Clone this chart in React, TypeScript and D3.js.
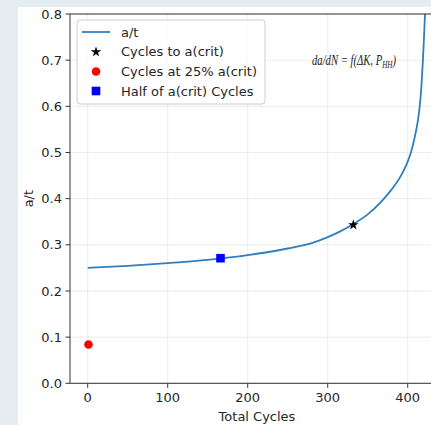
import React from "react";
import * as d3 from "d3";

const cycles = [0, 50, 100, 150, 200, 250, 280, 300, 315, 330, 350, 368.7, 380, 390, 398, 404, 409, 412.5, 415, 417.2, 419, 420.5, 421.6, 422.8];
const aOverT = [0.25, 0.2545, 0.2605, 0.2675, 0.2775, 0.292, 0.3035, 0.3165, 0.3285, 0.343, 0.366, 0.397, 0.42, 0.445, 0.472, 0.5, 0.535, 0.567, 0.6, 0.645, 0.7, 0.755, 0.8, 0.86];

const critPoint = { x: 332, y: 0.343 };
const quarterPoint = { x: 1, y: 0.084 };
const halfPoint = { x: 166, y: 0.271 };

const xTicks = [0, 100, 200, 300, 400];
const yTicks = [0, 0.1, 0.2, 0.3, 0.4, 0.5, 0.6, 0.7, 0.8];

const legendLabels = ["a/t", "Cycles to a(crit)", "Cycles at 25% a(crit)", "Half of a(crit) Cycles"];

const W = 431;
const H = 425;
const L = 70;
const R = 457;
const T = 14;
const B = 383.3;
const font = "DejaVu Sans, sans-serif";
const textColor = "#262626";
const lineColor = "#2f7fbf";
const eqFont = "Liberation Serif, serif";

export default function App() {
  const x = d3.scaleLinear().domain([-22.1, 461.6]).range([L, R]);
  const y = d3.scaleLinear().domain([0, 0.8]).range([B, T]);
  const line = d3
    .line<number>()
    .x((_, i) => x(cycles[i]))
    .y((d) => y(d))
    .curve(d3.curveMonotoneX);
  const star = d3.symbol(d3.symbolStar, 34)() as string;

  return (
    <svg width={W} height={H} style={{ position: "absolute", left: 0, top: 0, overflow: "hidden" }}>
      <rect x={0} y={0} width={W} height={H} fill="#e6edf1" />
      <rect x={18} y={7} width={W} height={H} fill="#ffffff" />
      <defs>
        <clipPath id="plot">
          <rect x={L} y={T} width={R - L} height={B - T} />
        </clipPath>
      </defs>
      {xTicks.map((t) => (
        <line key={"gx" + t} x1={x(t)} x2={x(t)} y1={T} y2={B} stroke="#b0b0b0" strokeOpacity={0.3} strokeWidth={0.8} />
      ))}
      {yTicks.map((t) => (
        <line key={"gy" + t} x1={L} x2={R} y1={y(t)} y2={y(t)} stroke="#b0b0b0" strokeOpacity={0.3} strokeWidth={0.8} />
      ))}
      <g clipPath="url(#plot)">
        <path d={line(aOverT) as string} fill="none" stroke={lineColor} strokeWidth={1.8} />
      </g>
      <path d={star} transform={`translate(${x(critPoint.x)},${y(critPoint.y)})`} fill="#000" />
      <circle cx={x(quarterPoint.x)} cy={y(quarterPoint.y)} r={4.3} fill="#ff0000" />
      <rect x={x(halfPoint.x) - 4.3} y={y(halfPoint.y) - 4.3} width={8.6} height={8.6} fill="#0000ff" />
      <rect x={L} y={T} width={R - L} height={B - T} fill="none" stroke="#333" strokeWidth={1} />
      {xTicks.map((t) => (
        <g key={"xt" + t}>
          <line x1={x(t)} x2={x(t)} y1={B} y2={B + 4.5} stroke="#333" strokeWidth={1} />
          <text x={x(t)} y={B + 19} textAnchor="middle" fontFamily={font} fontSize={13} fill={textColor}>
            {t}
          </text>
        </g>
      ))}
      {yTicks.map((t) => (
        <g key={"yt" + t}>
          <line x1={L - 4.5} x2={L} y1={y(t)} y2={y(t)} stroke="#333" strokeWidth={1} />
          <text x={L - 8} y={y(t) + 4.6} textAnchor="end" fontFamily={font} fontSize={13} fill={textColor}>
            {t.toFixed(1)}
          </text>
        </g>
      ))}
      <text x={257} y={421} textAnchor="middle" fontFamily={font} fontSize={13} fill={textColor}>
        Total Cycles
      </text>
      <text transform={`translate(33,${(T + B) / 2}) rotate(-90)`} textAnchor="middle" fontFamily={font} fontSize={13} fill={textColor}>
        a/t
      </text>
      <g transform="translate(312,64.5) scale(0.71,1)">
        <text x={0} y={0} fill="#222" fontFamily={eqFont} fontStyle="italic" fontSize={15}>
          da/dN = f(ΔK, P<tspan fontSize={10} dy={3}>HH</tspan>
          <tspan dy={-3}>)</tspan>
        </text>
      </g>
      <rect x={77} y={20} width={188} height={84} rx={3} fill="#fff" fillOpacity={0.8} stroke="#cccccc" strokeWidth={1} />
      <line x1={82} x2={110} y1={32} y2={32} stroke={lineColor} strokeWidth={1.8} />
      <path d={star} transform="translate(96,52)" fill="#000" />
      <circle cx={96} cy={71.5} r={4.3} fill="#ff0000" />
      <rect x={91.7} y={86.7} width={8.6} height={8.6} fill="#0000ff" />
      {legendLabels.map((s, i) => (
        <text key={s} x={121} y={36.5 + i * 19.8} fontFamily={font} fontSize={13} fill={textColor}>
          {s}
        </text>
      ))}
    </svg>
  );
}
